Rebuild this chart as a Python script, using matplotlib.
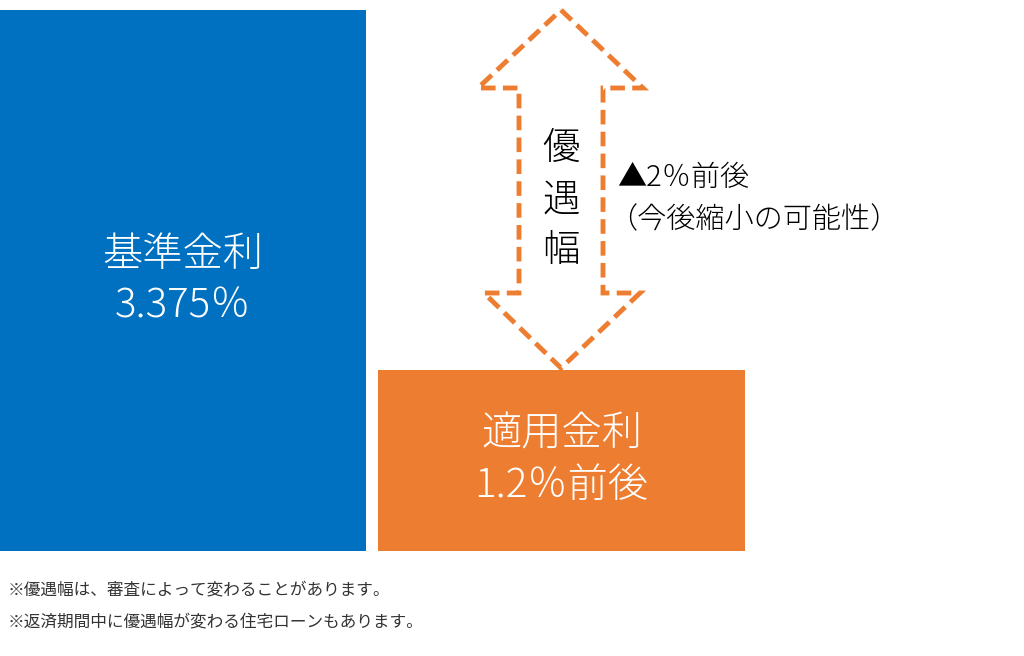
import matplotlib
matplotlib.use("Agg")
import matplotlib.pyplot as plt
from matplotlib.patches import Polygon

plt.rcParams['font.family'] = ['Noto Sans CJK JP', 'DejaVu Sans']

labels = ["基準金利\n3.375％", "適用金利\n1.2％前後"]
values = [3.375, 1.131]
colors = ["#0070C0", "#ED7D31"]
centers = [183, 561.5]
widths = [366, 367]

fig = plt.figure(figsize=(10.24, 6.56), dpi=100)
ax = fig.add_axes([0, 1 - 551/656, 1, 551/656])
ax.set_xlim(0, 1024)
ax.set_ylim(0, 3.375 * 551 / 541)
ax.axis('off')
bars = ax.bar(centers, values, width=widths, color=colors, align='center')
for b, lab in zip(bars, labels):
    ax.text(b.get_x() + b.get_width()/2, b.get_height()/2, lab, ha='center', va='center',
            color='white', fontsize=29, fontweight='light', linespacing=1.3)

# dashed double arrow (pixel coords of figure, top-left origin)
pts = [(561, 10), (643, 88), (603, 88), (603, 293), (640, 293), (561, 368),
       (484, 293), (519, 293), (519, 88), (478, 88)]
H = 656
poly = Polygon([(x/1024, (H - y)/H) for x, y in pts], closed=True, fill=False,
               edgecolor="#ED7D31", lw=3.5, linestyle=(0, (3, 1.5)), transform=fig.transFigure)
fig.add_artist(poly)
for ch, y in zip("優遇幅", [148, 200, 250]):
    fig.text(561/1024, (H - y)/H, ch, ha='center', va='center', fontsize=27, fontweight='light')
fig.text(617/1024, (H - 178)/H, "▲2％前後", ha='left', va='center', fontsize=21, fontweight='light')
fig.text(608/1024, (H - 220)/H, "（今後縮小の可能性）", ha='left', va='center', fontsize=21, fontweight='light')
fig.text(8/1024, (H - 590)/H, "※優遇幅は、審査によって変わることがあります。", ha='left', va='center', fontsize=12, color='#333333')
fig.text(8/1024, (H - 622)/H, "※返済期間中に優遇幅が変わる住宅ローンもあります。", ha='left', va='center', fontsize=12, color='#333333')
fig.savefig("out.png", dpi=100)
